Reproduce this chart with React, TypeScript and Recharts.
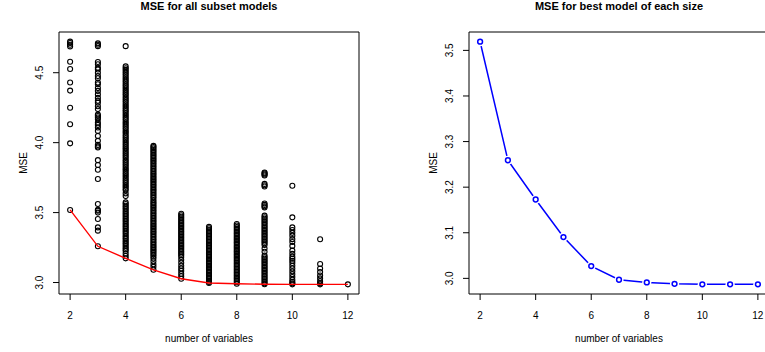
import React from "react";
import {
  ReferenceArea,
  Scatter,
  ScatterChart,
  XAxis,
  YAxis,
} from "recharts";

// MSE of every subset model, grouped by number of variables
const MSE_2 = [4.722, 4.712, 4.7, 4.688, 4.578, 4.527, 4.43, 4.372, 4.25, 4.131, 3.995, 3.519];
const MSE_3 = [
  4.71, 4.7, 4.69, 4.576, 4.56, 4.535, 4.523, 4.5, 4.476, 4.46, 4.43, 4.417, 4.39, 4.37, 4.345,
  4.32, 4.3, 4.286, 4.26, 4.24, 4.2, 4.19, 4.18, 4.167, 4.143, 4.127, 4.108, 4.084, 4.048, 4.013,
  3.984, 3.972, 3.965, 3.875, 3.84, 3.806, 3.74, 3.561, 3.52, 3.514, 3.5, 3.454, 3.394, 3.371, 3.259,
];
const MSE_4 = [
  4.69, 4.545, 4.532, 4.52, 4.506, 4.494, 4.481, 4.468, 4.455, 4.442, 4.43, 4.416, 4.404, 4.391,
  4.378, 4.365, 4.352, 4.34, 4.326, 4.314, 4.301, 4.288, 4.275, 4.262, 4.25, 4.236, 4.224, 4.211,
  4.198, 4.185, 4.172, 4.16, 4.146, 4.134, 4.121, 4.108, 4.095, 4.082, 4.07, 4.056, 4.044, 4.031,
  4.018, 4.005, 3.992, 3.98, 3.966, 3.954, 3.941, 3.928, 3.915, 3.902, 3.89, 3.876, 3.864, 3.851,
  3.838, 3.825, 3.812, 3.8, 3.786, 3.774, 3.761, 3.748, 3.735, 3.722, 3.71, 3.696, 3.684, 3.671,
  3.66, 3.637, 3.618, 3.573, 3.561, 3.549, 3.537, 3.525, 3.513, 3.501, 3.489, 3.477, 3.465, 3.453,
  3.441, 3.429, 3.417, 3.405, 3.393, 3.381, 3.369, 3.357, 3.345, 3.333, 3.321, 3.309, 3.297, 3.285,
  3.273, 3.261, 3.249, 3.237, 3.225, 3.207, 3.19, 3.173,
];
const MSE_5 = [
  3.977, 3.968, 3.958, 3.947, 3.936, 3.925, 3.914, 3.902, 3.891, 3.88, 3.868, 3.857, 3.845, 3.833,
  3.822, 3.81, 3.799, 3.787, 3.776, 3.764, 3.752, 3.741, 3.73, 3.718, 3.707, 3.695, 3.684, 3.672,
  3.661, 3.65, 3.638, 3.627, 3.615, 3.604, 3.59, 3.578, 3.566, 3.555, 3.543, 3.532, 3.52, 3.509,
  3.497, 3.486, 3.474, 3.463, 3.451, 3.44, 3.428, 3.417, 3.405, 3.394, 3.382, 3.371, 3.359, 3.348,
  3.336, 3.325, 3.313, 3.302, 3.29, 3.279, 3.267, 3.256, 3.244, 3.233, 3.221, 3.21, 3.198, 3.186,
  3.171, 3.152, 3.131, 3.112, 3.091,
];
const MSE_6 = [
  3.492, 3.481, 3.47, 3.459, 3.448, 3.437, 3.426, 3.415, 3.404, 3.393, 3.382, 3.371, 3.36, 3.349,
  3.338, 3.327, 3.316, 3.305, 3.294, 3.283, 3.272, 3.261, 3.25, 3.239, 3.228, 3.217, 3.206, 3.195,
  3.183, 3.162, 3.141, 3.12, 3.101, 3.083, 3.063, 3.045, 3.027,
];
const MSE_7 = [
  3.398, 3.388, 3.377, 3.366, 3.356, 3.345, 3.334, 3.324, 3.313, 3.302, 3.292, 3.281, 3.27, 3.26,
  3.249, 3.238, 3.228, 3.217, 3.206, 3.196, 3.185, 3.174, 3.164, 3.153, 3.142, 3.132, 3.121, 3.11,
  3.1, 3.089, 3.078, 3.068, 3.057, 3.046, 3.036, 3.025, 3.014, 3.004, 2.997,
];
const MSE_8 = [
  3.418, 3.408, 3.397, 3.386, 3.376, 3.365, 3.354, 3.344, 3.333, 3.322, 3.312, 3.301, 3.29, 3.28,
  3.269, 3.258, 3.248, 3.237, 3.226, 3.216, 3.205, 3.194, 3.184, 3.173, 3.162, 3.152, 3.141, 3.13,
  3.12, 3.109, 3.098, 3.088, 3.077, 3.066, 3.056, 3.045, 3.034, 3.024, 3.013, 3.002, 2.991,
];
const MSE_9 = [
  3.787, 3.78, 3.772, 3.765, 3.705, 3.695, 3.687, 3.565, 3.555, 3.545, 3.537, 3.478, 3.467, 3.456,
  3.445, 3.434, 3.423, 3.412, 3.401, 3.39, 3.379, 3.368, 3.357, 3.346, 3.335, 3.324, 3.313, 3.302,
  3.291, 3.28, 3.268, 3.243, 3.22, 3.192, 3.181, 3.17, 3.159, 3.148, 3.137, 3.126, 3.115, 3.104,
  3.093, 3.082, 3.071, 3.06, 3.049, 3.038, 3.027, 3.016, 3.005, 2.994, 2.988,
];
const MSE_10 = [
  3.692, 3.466, 3.394, 3.375, 3.355, 3.335, 3.31, 3.29, 3.262, 3.228, 3.205, 3.185, 3.17, 3.155,
  3.14, 3.12, 3.1, 3.08, 3.06, 3.04, 3.02, 3.005, 2.995, 2.987,
];
const MSE_11 = [3.309, 3.133, 3.1, 3.075, 3.05, 3.03, 3.01, 2.995, 2.987];
const MSE_12 = [2.987];

// best model of each size
const SIZES = [2, 3, 4, 5, 6, 7, 8, 9, 10, 11, 12];
const BEST_MSE = [3.519, 3.259, 3.173, 3.0906, 3.027, 2.997, 2.991, 2.988, 2.987, 2.987, 2.987];

const X_TICKS = [2, 4, 6, 8, 10, 12];
const LEFT_Y_TICKS = [3.0, 3.5, 4.0, 4.5];
const RIGHT_Y_TICKS = [3.0, 3.1, 3.2, 3.3, 3.4, 3.5];

const allSubsets = [MSE_2, MSE_3, MSE_4, MSE_5, MSE_6, MSE_7, MSE_8, MSE_9, MSE_10, MSE_11, MSE_12]
  .flatMap((col, i) => col.map((y) => ({ x: SIZES[i], y })));
const bestPoints = SIZES.map((x, i) => ({ x, y: BEST_MSE[i] }));

const FONT = "'Liberation Sans', Arial, Helvetica, sans-serif";
const X_DOMAIN: [number, number] = [1.6, 12.4];
const LEFT_Y_DOMAIN: [number, number] = [2.918, 4.791];
const RIGHT_Y_DOMAIN: [number, number] = [2.9657, 3.5403];

const CHART_W = 380;
const CHART_H = 352;
const MARGIN = { top: 32, right: 21, bottom: 28, left: 0 };

function XTick(props: any) {
  const { x, y, payload } = props;
  return (
    <text x={x} y={y + 19} textAnchor="middle" fontSize={10} fontFamily={FONT} fill="#000">
      {payload.value}
    </text>
  );
}

function YTick(props: any) {
  const { x, y, payload } = props;
  const bx = x - 9.5;
  return (
    <text
      x={bx}
      y={y}
      transform={`rotate(-90, ${bx}, ${y})`}
      textAnchor="middle"
      fontSize={10}
      fontFamily={FONT}
      fill="#000"
    >
      {Number(payload.value).toFixed(1)}
    </text>
  );
}

const OpenCircle = (props: any) => (
  <circle cx={props.cx} cy={props.cy} r={2.5} fill="none" stroke="#000" strokeWidth={1.1} />
);

const BlueCircle = (props: any) => (
  <g>
    <circle cx={props.cx} cy={props.cy} r={4.6} fill="#fff" />
    <circle cx={props.cx} cy={props.cy} r={2.4} fill="none" stroke="#0000ff" strokeWidth={1.5} />
  </g>
);

const NoShape = () => <g />;

function Axes({ yDomain, yTicks }: { yDomain: [number, number]; yTicks: number[] }) {
  return [
    <XAxis
      key="x"
      type="number"
      dataKey="x"
      domain={X_DOMAIN}
      ticks={X_TICKS}
      interval={0}
      allowDataOverflow
      axisLine={false}
      tickLine={{ stroke: "#000" }}
      tickSize={6}
      tickMargin={0}
      height={30}
      tick={<XTick />}
    />,
    <YAxis
      key="y"
      type="number"
      dataKey="y"
      domain={yDomain}
      ticks={yTicks}
      interval={0}
      allowDataOverflow
      axisLine={false}
      tickLine={{ stroke: "#000" }}
      tickSize={6}
      tickMargin={0}
      width={59}
      tick={<YTick />}
    />,
  ];
}

export default function App() {
  const labelStyle = { fontFamily: FONT, fontSize: 10, fill: "#000" };
  const titleStyle = { fontFamily: FONT, fontSize: 11, fontWeight: 700, fill: "#000" };
  return (
    <div
      style={{
        position: "absolute",
        left: 0,
        top: 0,
        width: 765,
        height: 352,
        overflow: "hidden",
        background: "#fff",
      }}
    >
      <div style={{ position: "absolute", left: 0, top: 0 }}>
        <ScatterChart width={CHART_W} height={CHART_H} margin={MARGIN}>
          {Axes({ yDomain: LEFT_Y_DOMAIN, yTicks: LEFT_Y_TICKS })}
          <ReferenceArea
            x1={X_DOMAIN[0]}
            x2={X_DOMAIN[1]}
            y1={LEFT_Y_DOMAIN[0]}
            y2={LEFT_Y_DOMAIN[1]}
            fill="none"
            stroke="#000"
            strokeWidth={1}
          />
          <Scatter data={allSubsets} shape={OpenCircle} isAnimationActive={false} />
          <Scatter
            data={bestPoints}
            shape={NoShape}
            line={{ stroke: "#ff0000", strokeWidth: 1.4 }}
            isAnimationActive={false}
          />
        </ScatterChart>
      </div>
      <div style={{ position: "absolute", left: 410, top: 0 }}>
        <ScatterChart width={CHART_W} height={CHART_H} margin={MARGIN}>
          {Axes({ yDomain: RIGHT_Y_DOMAIN, yTicks: RIGHT_Y_TICKS })}
          <ReferenceArea
            x1={X_DOMAIN[0]}
            x2={X_DOMAIN[1]}
            y1={RIGHT_Y_DOMAIN[0]}
            y2={RIGHT_Y_DOMAIN[1]}
            fill="none"
            stroke="#000"
            strokeWidth={1}
          />
          <Scatter
            data={bestPoints}
            shape={BlueCircle}
            line={{ stroke: "#0000ff", strokeWidth: 1.5 }}
            isAnimationActive={false}
          />
        </ScatterChart>
      </div>
      <svg
        width={765}
        height={352}
        style={{ position: "absolute", left: 0, top: 0, pointerEvents: "none" }}
      >
        <text x={209} y={10} textAnchor="middle" style={titleStyle}>
          MSE for all subset models
        </text>
        <text x={619} y={10} textAnchor="middle" style={titleStyle}>
          MSE for best model of each size
        </text>
        <text x={209} y={342} textAnchor="middle" style={labelStyle}>
          number of variables
        </text>
        <text x={619} y={342} textAnchor="middle" style={labelStyle}>
          number of variables
        </text>
        <text x={27} y={163} textAnchor="middle" transform="rotate(-90, 27, 163)" style={labelStyle}>
          MSE
        </text>
        <text x={437} y={163} textAnchor="middle" transform="rotate(-90, 437, 163)" style={labelStyle}>
          MSE
        </text>
      </svg>
    </div>
  );
}
